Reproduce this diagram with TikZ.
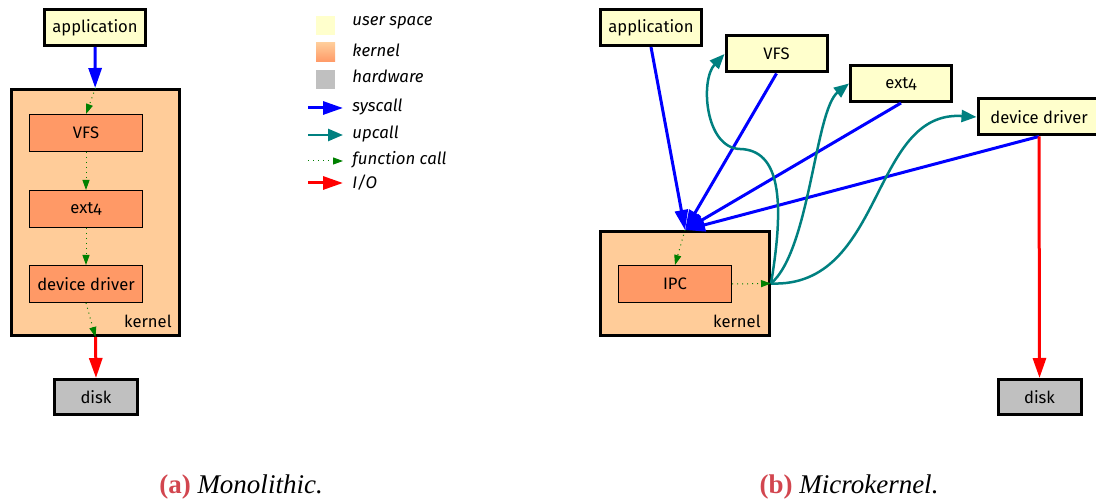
\documentclass[tikz,border=0pt]{standalone}
\usepackage{fontspec}
\setmainfont{Fira Sans}[Numbers=OldStyle]
\newfontfamily\capfont{Liberation Serif}
\usetikzlibrary{arrows.meta,positioning}

\definecolor{userfill}{HTML}{FFFFCC}
\definecolor{kernfill}{HTML}{FFCC99}
\definecolor{modfill}{HTML}{FF9966}
\definecolor{hwfill}{HTML}{C0C0C0}
\definecolor{upteal}{HTML}{008080}
\definecolor{fgreen}{HTML}{008000}
\definecolor{capred}{HTML}{D2464F}

\tikzset{
  user/.style={draw, line width=1.5pt, fill=userfill, minimum width=50.5pt,
    minimum height=18pt, inner sep=0pt},
  kern/.style={draw, line width=1.5pt, fill=kernfill, inner sep=0pt},
  module/.style={draw, line width=0.5pt, fill=modfill, minimum width=56.5pt,
    minimum height=18.5pt, inner sep=0pt},
  hw/.style={draw, line width=1.5pt, fill=hwfill, minimum width=41.5pt,
    minimum height=17.5pt, inner sep=0pt},
  kernlabel/.style={anchor=south east, inner sep=0pt},
  syscall/.style={blue, line width=1.5pt, -{Triangle[length=10pt,width=6.5pt]}},
  upcall/.style={upteal, line width=1.25pt, -{Triangle[length=7.5pt,width=6pt]}},
  fcall/.style={fgreen, line width=0.5pt, dotted, -{Triangle[length=5pt,width=3.5pt]}},
  io/.style={red, line width=1.5pt, -{Triangle[length=10pt,width=6.5pt]}},
  swatch/.style={minimum size=9.5pt, inner sep=0pt},
  legtext/.style={anchor=west, inner sep=0pt, font=\fontsize{8.4}{10}\selectfont\itshape},
  caption/.style={font=\capfont\fontsize{13.5}{15}\selectfont},
}

\begin{document}
\begin{tikzpicture}[x=0.5pt, y=-0.5pt, font=\fontsize{8.3}{10}\selectfont]
  \useasboundingbox (0,0) rectangle (1096,501);

  % (a) monolithic
  \node[user] (appA) at (95,27.5) {application};
  \node[kern, minimum width=84pt, minimum height=123pt] (kernA) at (95.5,212.5) {};
  \node[kernlabel] (kernlblA) at ([shift={(-9,-9)}]kernA.south east) {kernel};
  \node[module] (vfsA) at (86,133) {VFS};
  \node[module, below=19pt of vfsA] (extA) {ext4};
  \node[module, below=18.5pt of extA] (ddA) {device driver};
  \node[hw] (diskA) at (96,397) {disk};

  \draw[syscall] (appA) -- (kernA);
  \draw[fcall] (kernA.north) -- (vfsA.north);
  \draw[fcall] (vfsA) -- (extA);
  \draw[fcall] (extA) -- (ddA);
  \draw[fcall] (ddA.south) -- (kernA.south);
  \draw[io] (kernA.south) -- (diskA.north);

  % legend
  \node[swatch, fill=userfill] (swUser) at (325.5,26) {};
  \node[swatch, top color=kernfill, bottom color=modfill] (swKern) at (325.5,52.5) {};
  \node[swatch, fill=hwfill] (swHw) at (325.5,79.5) {};
  \node[legtext] (lgUser) at (352,23) {user space};
  \node[legtext] (lgKern) at (352,50) {kernel};
  \node[legtext] (lgHw) at (352,76) {hardware};
  \node[legtext] (lgSys) at (352,107) {syscall};
  \node[legtext] (lgUp) at (352,134) {upcall};
  \node[legtext] (lgFn) at (352,160) {function call};
  \node[legtext] (lgIo) at (352,183) {I/O};
  \coordinate (sysL) at (308,108);  \coordinate (sysR) at (343,108);
  \coordinate (upL) at (308,135);   \coordinate (upR) at (343,135);
  \coordinate (fnL) at (308,161);   \coordinate (fnR) at (343,161);
  \coordinate (ioL) at (308,183);   \coordinate (ioR) at (343,183);
  \draw[syscall] (sysL) -- (sysR);
  \draw[upcall] (upL) -- (upR);
  \draw[fcall] (fnL) -- (fnR);
  \draw[io] (ioL) -- (ioR);

  % (b) microkernel
  \node[user] (appB) at (651,27.5) {application};
  \node[user] (vfsB) at (776.5,54) {VFS};
  \node[user] (extB) at (901,83.5) {ext4};
  \node[user, minimum width=61pt] (ddB) at (1039,117) {device driver};
  \node[kern, minimum width=84.5pt, minimum height=52pt] (kernB) at (685,283.5) {};
  \node[kernlabel] (kernlblB) at ([shift={(-10,-9)}]kernB.south east) {kernel};
  \node[module] (ipcB) at (675,284) {IPC};
  \node[hw] (diskB) at (1039.5,397) {disk};
  \coordinate (bendB) at (740,149);

  \draw[syscall] (appB.south) -- (kernB.north);
  \draw[syscall] (vfsB.south) -- (kernB.north);
  \draw[syscall] (extB.south) -- (kernB.north);
  \draw[syscall] (ddB.south) -- (kernB.north);
  \draw[fcall] (kernB.north) -- (ipcB.north);
  \draw[fcall] (ipcB.east) -- (kernB.east);
  \draw[upcall] (kernB.east) .. controls (785,200) and (780,150) .. (bendB)
    .. controls (705,148) and (700,80) .. (vfsB.west);
  \draw[upcall] (kernB.east) .. controls (810,250) and (815,110) .. (extB.west);
  \draw[upcall] (kernB.east) .. controls (885,288) and (870,110) .. (ddB.west);
  \draw[io] (ddB.south) -- (diskB.north);

  % captions
  \node[caption] (capA) at (241,487) {\textcolor{capred}{\bfseries(a)} \itshape Monolithic.};
  \node[caption] (capB) at (849,487) {\textcolor{capred}{\bfseries(b)} \itshape Microkernel.};
\end{tikzpicture}
\end{document}
